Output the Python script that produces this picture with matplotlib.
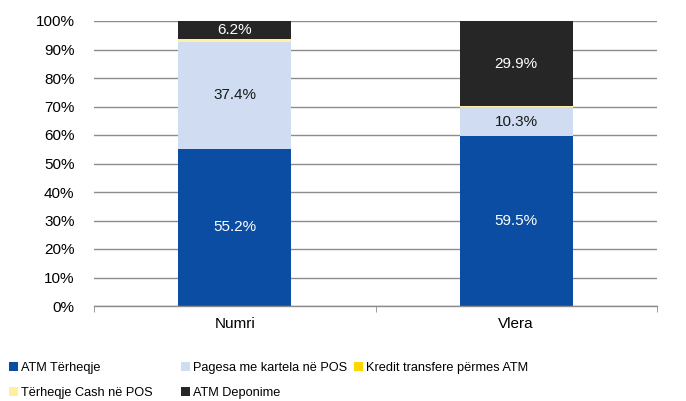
import matplotlib
matplotlib.use("Agg")
import matplotlib.pyplot as plt
from matplotlib.patches import Patch
import numpy as np

plt.rcParams['font.family'] = ['Liberation Sans', 'DejaVu Sans']

categories = ["Numri", "Vlera"]
series_names = ["ATM Tërheqje", "Pagesa me kartela në POS", "Kredit transfere përmes ATM",
                "Tërheqje Cash në POS", "ATM Deponime"]
atm_terheqje = [55.2, 59.5]
pagesa_pos = [37.4, 10.3]
kredit_transfere = [0.1, 0.1]
cash_pos = [1.1, 0.2]
atm_deponime = [6.2, 29.9]
yticks = [0, 10, 20, 30, 40, 50, 60, 70, 80, 90, 100]

series = [atm_terheqje, pagesa_pos, kredit_transfere, cash_pos, atm_deponime]
colors = ["#0B4DA2", "#CFDCF2", "#FFD700", "#FFF0A0", "#262626"]
label_colors = ["white", "#1a1a1a", None, None, "white"]

fig = plt.figure(figsize=(6.86, 4.01), dpi=100)
ax = fig.add_axes([94/686, 1-306/401, (657-94)/686, (306-21)/401])

x = np.arange(len(categories))
bottom = np.zeros(len(categories))
for vals, col, lc in zip(series, colors, label_colors):
    vals = np.array(vals)
    ax.bar(x, vals, 0.4, bottom=bottom, color=col, zorder=3)
    if lc is not None:
        for xi, v, b in zip(x, vals, bottom):
            ax.text(xi, b + v/2, f"{v:.1f}%", ha='center', va='center',
                    color=lc, fontsize=11, zorder=4)
    bottom += vals

ax.set_xlim(-0.5, 1.5)
ax.set_ylim(0, 100)
ax.set_yticks(yticks)
ax.set_yticklabels([f"{t}%" for t in yticks], fontsize=11)
ax.yaxis.grid(True, color="#8C8C8C", linewidth=1, zorder=0)
ax.set_xticks(x)
ax.set_xticklabels(categories, fontsize=11)
ax.set_xticks([-0.5, 0.5, 1.5], minor=True)
ax.tick_params(axis='x', which='major', length=0, pad=8)
ax.tick_params(axis='x', which='minor', length=4, color="#8C8C8C")
ax.tick_params(axis='y', length=0, pad=14)
for s in ['top', 'right', 'left']:
    ax.spines[s].set_visible(False)
ax.spines['bottom'].set_color("#8C8C8C")
ax.spines['bottom'].set_linewidth(1)
ax.spines['bottom'].set_zorder(5)

handles = [Patch(facecolor=c, edgecolor='none') for c in colors]
cols = [[0, 3], [1, 4], [2]]
xpos = [9/686, 181/686, 354/686]
legfont = {'family': 'Liberation Sans', 'size': 9.2}
for ci, xp in zip(cols, xpos):
    leg = fig.legend([handles[i] for i in ci], [series_names[i] for i in ci],
                     loc='upper left', bbox_to_anchor=(xp, 1-362/401),
                     frameon=False, prop=legfont, handlelength=0.7, handleheight=0.7,
                     handletextpad=0.25, labelspacing=1.05, borderpad=0, borderaxespad=0)

fig.savefig("out.png", dpi=100)
